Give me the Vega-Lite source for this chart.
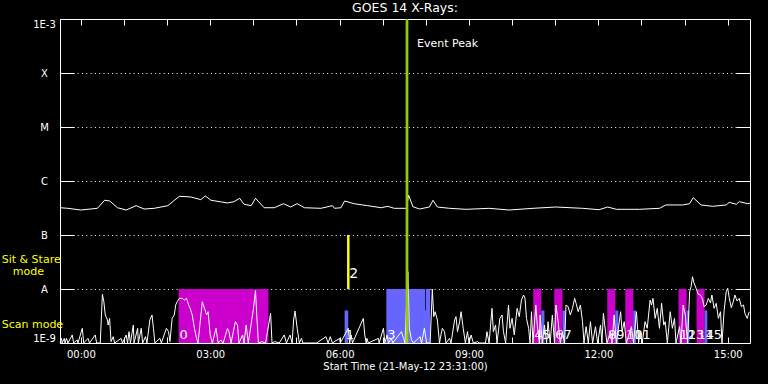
{
  "$schema": "https://vega.github.io/schema/vega-lite/v6.json",
  "width": 690,
  "height": 324,
  "autosize": "none",
  "padding": {"left": 60, "top": 19, "right": 18, "bottom": 41},
  "background": "black",
  "config": {
    "font": "DejaVu Sans",
    "view": {"stroke": "white", "strokeWidth": 1}
  },
  "title": {"text": "GOES 14 X-Rays:", "color": "white", "fontSize": 12.5, "fontWeight": "normal", "anchor": "middle", "baseline": "alphabetic", "offset": -7},
  "datasets": {
    "long": [
      {"t":"2012-05-21T23:31","f":3.2e-7},{"t":"2012-05-21T23:42","f":3.12e-7},{"t":"2012-05-22T00:00","f":2.9e-7},{"t":"2012-05-22T00:23","f":3.12e-7},{"t":"2012-05-22T00:33","f":4.4e-7},{"t":"2012-05-22T00:40","f":4.27e-7},{"t":"2012-05-22T00:51","f":3.2e-7},{"t":"2012-05-22T01:03","f":2.9e-7},{"t":"2012-05-22T01:17","f":3.49e-7},{"t":"2012-05-22T01:28","f":3.03e-7},{"t":"2012-05-22T01:42","f":3.12e-7},{"t":"2012-05-22T02:01","f":3.49e-7},{"t":"2012-05-22T02:17","f":5.21e-7},{"t":"2012-05-22T02:33","f":5.06e-7},{"t":"2012-05-22T02:47","f":4.51e-7},{"t":"2012-05-22T02:53","f":5.3e-7},{"t":"2012-05-22T03:01","f":4.4e-7},{"t":"2012-05-22T03:24","f":3.92e-7},{"t":"2012-05-22T03:33","f":4.14e-7},{"t":"2012-05-22T03:41","f":4.78e-7},{"t":"2012-05-22T03:47","f":3.71e-7},{"t":"2012-05-22T03:57","f":3.49e-7},{"t":"2012-05-22T04:03","f":4.78e-7},{"t":"2012-05-22T04:15","f":3.2e-7},{"t":"2012-05-22T04:29","f":3.2e-7},{"t":"2012-05-22T04:42","f":3.8e-7},{"t":"2012-05-22T04:52","f":3.3e-7},{"t":"2012-05-22T05:01","f":3.8e-7},{"t":"2012-05-22T05:11","f":3.2e-7},{"t":"2012-05-22T05:34","f":3.12e-7},{"t":"2012-05-22T05:50","f":3.49e-7},{"t":"2012-05-22T05:53","f":3.12e-7},{"t":"2012-05-22T06:02","f":3.2e-7},{"t":"2012-05-22T06:07","f":4.27e-7},{"t":"2012-05-22T06:20","f":3.8e-7},{"t":"2012-05-22T06:39","f":3.49e-7},{"t":"2012-05-22T06:58","f":3.2e-7},{"t":"2012-05-22T07:07","f":3.4e-7},{"t":"2012-05-22T07:16","f":3.12e-7},{"t":"2012-05-22T07:33","f":3.12e-7},{"t":"2012-05-22T07:36","f":5.5e-7},{"t":"2012-05-22T07:42","f":3.34e-7},{"t":"2012-05-22T07:51","f":3.03e-7},{"t":"2012-05-22T08:05","f":3.3e-7},{"t":"2012-05-22T08:10","f":4.4e-7},{"t":"2012-05-22T08:16","f":3.3e-7},{"t":"2012-05-22T08:33","f":3.12e-7},{"t":"2012-05-22T08:56","f":2.99e-7},{"t":"2012-05-22T09:28","f":3.12e-7},{"t":"2012-05-22T09:56","f":2.9e-7},{"t":"2012-05-22T10:29","f":3.12e-7},{"t":"2012-05-22T11:01","f":3.3e-7},{"t":"2012-05-22T11:38","f":3.12e-7},{"t":"2012-05-22T12:01","f":2.94e-7},{"t":"2012-05-22T12:13","f":3.3e-7},{"t":"2012-05-22T12:25","f":2.99e-7},{"t":"2012-05-22T12:57","f":2.99e-7},{"t":"2012-05-22T13:25","f":3.12e-7},{"t":"2012-05-22T13:34","f":3.6e-7},{"t":"2012-05-22T13:57","f":3.6e-7},{"t":"2012-05-22T14:07","f":3.8e-7},{"t":"2012-05-22T14:12","f":4.91e-7},{"t":"2012-05-22T14:23","f":3.6e-7},{"t":"2012-05-22T14:39","f":3.4e-7},{"t":"2012-05-22T14:58","f":3.6e-7},{"t":"2012-05-22T15:02","f":4.03e-7},{"t":"2012-05-22T15:12","f":3.71e-7},{"t":"2012-05-22T15:16","f":4.14e-7},{"t":"2012-05-22T15:28","f":3.8e-7},{"t":"2012-05-22T15:31","f":3.9e-7}
    ],
    "short": [
      {"t":"2012-05-21T23:31","f":1e-9},{"t":"2012-05-21T23:33","f":1.22e-9},{"t":"2012-05-21T23:34","f":1e-9},{"t":"2012-05-21T23:37","f":1.22e-9},{"t":"2012-05-21T23:38","f":1e-9},{"t":"2012-05-21T23:40","f":1.22e-9},{"t":"2012-05-21T23:42","f":1e-9},{"t":"2012-05-21T23:48","f":1.41e-9},{"t":"2012-05-21T23:50","f":1e-9},{"t":"2012-05-21T23:55","f":1.14e-9},{"t":"2012-05-21T23:56","f":1e-9},
      {"t":"2012-05-22T00:02","f":1.87e-9},{"t":"2012-05-22T00:04","f":1e-9},{"t":"2012-05-22T00:10","f":1.22e-9},{"t":"2012-05-22T00:12","f":1e-9},{"t":"2012-05-22T00:20","f":1.41e-9},{"t":"2012-05-22T00:22","f":1e-9},{"t":"2012-05-22T00:27","f":1e-9},{"t":"2012-05-22T00:30","f":7.96e-9},{"t":"2012-05-22T00:32","f":5.82e-9},{"t":"2012-05-22T00:34","f":3.3e-9},{"t":"2012-05-22T00:37","f":2.67e-9},{"t":"2012-05-22T00:38","f":2.15e-9},{"t":"2012-05-22T00:40","f":2.86e-9},{"t":"2012-05-22T00:42","f":1.06e-9},{"t":"2012-05-22T00:45","f":1.31e-9},{"t":"2012-05-22T00:47","f":1e-9},{"t":"2012-05-22T00:56","f":1.22e-9},{"t":"2012-05-22T00:58","f":1e-9},
      {"t":"2012-05-22T01:03","f":1.41e-9},{"t":"2012-05-22T01:05","f":1e-9},{"t":"2012-05-22T01:07","f":1.62e-9},{"t":"2012-05-22T01:09","f":1e-9},{"t":"2012-05-22T01:13","f":2.15e-9},{"t":"2012-05-22T01:14","f":1e-9},{"t":"2012-05-22T01:19","f":1.87e-9},{"t":"2012-05-22T01:20","f":1e-9},{"t":"2012-05-22T01:24","f":1.87e-9},{"t":"2012-05-22T01:26","f":1e-9},{"t":"2012-05-22T01:30","f":1.31e-9},{"t":"2012-05-22T01:32","f":1e-9},{"t":"2012-05-22T01:36","f":2.67e-9},{"t":"2012-05-22T01:39","f":3.3e-9},{"t":"2012-05-22T01:41","f":1.87e-9},{"t":"2012-05-22T01:43","f":1e-9},{"t":"2012-05-22T01:50","f":1.22e-9},{"t":"2012-05-22T01:52","f":1e-9},{"t":"2012-05-22T01:59","f":1.87e-9},
      {"t":"2012-05-22T02:02","f":1.62e-9},{"t":"2012-05-22T02:04","f":1.06e-9},{"t":"2012-05-22T02:07","f":2.86e-9},{"t":"2012-05-22T02:10","f":3.3e-9},{"t":"2012-05-22T02:12","f":5.06e-9},{"t":"2012-05-22T02:14","f":5.82e-9},{"t":"2012-05-22T02:17","f":6.71e-9},{"t":"2012-05-22T02:21","f":6.71e-9},{"t":"2012-05-22T02:24","f":6.25e-9},{"t":"2012-05-22T02:27","f":6.71e-9},{"t":"2012-05-22T02:30","f":5.06e-9},{"t":"2012-05-22T02:32","f":4.39e-9},{"t":"2012-05-22T02:35","f":3.3e-9},{"t":"2012-05-22T02:38","f":1.87e-9},{"t":"2012-05-22T02:41","f":1.22e-9},{"t":"2012-05-22T02:43","f":1e-9},{"t":"2012-05-22T02:49","f":5.82e-9},{"t":"2012-05-22T02:52","f":4.39e-9},{"t":"2012-05-22T02:55","f":3.3e-9},{"t":"2012-05-22T02:57","f":3.8e-9},
      {"t":"2012-05-22T03:00","f":1.41e-9},{"t":"2012-05-22T03:03","f":1e-9},{"t":"2012-05-22T03:08","f":1.87e-9},{"t":"2012-05-22T03:11","f":1e-9},{"t":"2012-05-22T03:15","f":1.14e-9},{"t":"2012-05-22T03:18","f":1e-9},{"t":"2012-05-22T03:24","f":1.87e-9},{"t":"2012-05-22T03:26","f":1.62e-9},{"t":"2012-05-22T03:29","f":1e-9},{"t":"2012-05-22T03:35","f":2.48e-9},{"t":"2012-05-22T03:38","f":2.15e-9},{"t":"2012-05-22T03:40","f":1e-9},{"t":"2012-05-22T03:45","f":1.41e-9},{"t":"2012-05-22T03:47","f":1e-9},{"t":"2012-05-22T03:50","f":2.15e-9},{"t":"2012-05-22T03:53","f":1e-9},
      {"t":"2012-05-22T04:00","f":4.2e-9},{"t":"2012-05-22T04:03","f":9.31e-9},{"t":"2012-05-22T04:05","f":2.86e-9},{"t":"2012-05-22T04:07","f":1e-9},{"t":"2012-05-22T04:12","f":1.06e-9},{"t":"2012-05-22T04:17","f":1e-9},{"t":"2012-05-22T04:24","f":3.54e-9},{"t":"2012-05-22T04:26","f":1e-9},{"t":"2012-05-22T04:30","f":1.06e-9},{"t":"2012-05-22T04:36","f":1e-9},{"t":"2012-05-22T04:43","f":1.41e-9},{"t":"2012-05-22T04:46","f":1e-9},{"t":"2012-05-22T04:51","f":1.41e-9},{"t":"2012-05-22T04:54","f":1e-9},{"t":"2012-05-22T04:56","f":2.67e-9},{"t":"2012-05-22T04:58","f":3.92e-9},
      {"t":"2012-05-22T05:01","f":1.87e-9},{"t":"2012-05-22T05:04","f":1e-9},{"t":"2012-05-22T05:07","f":1.22e-9},{"t":"2012-05-22T05:09","f":1e-9},{"t":"2012-05-22T05:28","f":1e-9},{"t":"2012-05-22T05:41","f":1.31e-9},{"t":"2012-05-22T05:44","f":1e-9},{"t":"2012-05-22T05:47","f":1.31e-9},{"t":"2012-05-22T05:50","f":1e-9},
      {"t":"2012-05-22T06:00","f":1.22e-9},{"t":"2012-05-22T06:01","f":1e-9},{"t":"2012-05-22T06:12","f":1.87e-9},{"t":"2012-05-22T06:14","f":1e-9},{"t":"2012-05-22T06:16","f":1.41e-9},{"t":"2012-05-22T06:18","f":1e-9},{"t":"2012-05-22T06:33","f":2.86e-9},{"t":"2012-05-22T06:35","f":1.41e-9},{"t":"2012-05-22T06:37","f":1e-9},{"t":"2012-05-22T06:38","f":1.22e-9},{"t":"2012-05-22T06:40","f":1e-9},{"t":"2012-05-22T06:54","f":1.22e-9},{"t":"2012-05-22T06:55","f":1e-9},
      {"t":"2012-05-22T07:01","f":1.87e-9},{"t":"2012-05-22T07:03","f":1e-9},{"t":"2012-05-22T07:06","f":1.41e-9},{"t":"2012-05-22T07:08","f":1e-9},{"t":"2012-05-22T07:12","f":1.22e-9},{"t":"2012-05-22T07:14","f":1e-9},{"t":"2012-05-22T07:26","f":1.62e-9},{"t":"2012-05-22T07:29","f":1.22e-9},{"t":"2012-05-22T07:31","f":1e-9},{"t":"2012-05-22T07:35","f":2.09e-8},{"t":"2012-05-22T07:37","f":1.87e-9},{"t":"2012-05-22T07:40","f":1.14e-9},{"t":"2012-05-22T07:43","f":1e-9},{"t":"2012-05-22T07:52","f":1.31e-9},{"t":"2012-05-22T07:54","f":1e-9},{"t":"2012-05-22T07:58","f":1.87e-9},
      {"t":"2012-05-22T08:01","f":1e-9},{"t":"2012-05-22T08:06","f":1e-9},{"t":"2012-05-22T08:09","f":1e-8},{"t":"2012-05-22T08:11","f":3.08e-9},{"t":"2012-05-22T08:13","f":3.8e-9},{"t":"2012-05-22T08:16","f":2.67e-9},{"t":"2012-05-22T08:19","f":1e-9},{"t":"2012-05-22T08:21","f":1.41e-9},{"t":"2012-05-22T08:23","f":1.87e-9},{"t":"2012-05-22T08:26","f":1.62e-9},{"t":"2012-05-22T08:28","f":1e-9},{"t":"2012-05-22T08:33","f":1.22e-9},{"t":"2012-05-22T08:35","f":1e-9},{"t":"2012-05-22T08:40","f":2.67e-9},{"t":"2012-05-22T08:42","f":3.08e-9},{"t":"2012-05-22T08:44","f":1.62e-9},{"t":"2012-05-22T08:47","f":2.48e-9},{"t":"2012-05-22T08:49","f":3.8e-9},{"t":"2012-05-22T08:52","f":1.87e-9},{"t":"2012-05-22T08:55","f":1e-9},{"t":"2012-05-22T08:58","f":1.62e-9},
      {"t":"2012-05-22T09:00","f":1e-9},{"t":"2012-05-22T09:03","f":1.41e-9},{"t":"2012-05-22T09:06","f":1e-9},{"t":"2012-05-22T09:12","f":1.06e-9},{"t":"2012-05-22T09:14","f":1e-9},{"t":"2012-05-22T09:23","f":1e-9},{"t":"2012-05-22T09:25","f":1.62e-9},{"t":"2012-05-22T09:28","f":1e-9},{"t":"2012-05-22T09:32","f":4.39e-9},{"t":"2012-05-22T09:34","f":1.62e-9},{"t":"2012-05-22T09:37","f":2.15e-9},{"t":"2012-05-22T09:39","f":1e-9},{"t":"2012-05-22T09:43","f":2.86e-9},{"t":"2012-05-22T09:46","f":3.3e-9},{"t":"2012-05-22T09:48","f":1.62e-9},{"t":"2012-05-22T09:51","f":1e-9},{"t":"2012-05-22T09:55","f":5.06e-9},{"t":"2012-05-22T09:57","f":1.87e-9},
      {"t":"2012-05-22T10:00","f":2.86e-9},{"t":"2012-05-22T10:03","f":1.41e-9},{"t":"2012-05-22T10:07","f":4.39e-9},{"t":"2012-05-22T10:10","f":3.08e-9},{"t":"2012-05-22T10:13","f":6.25e-9},{"t":"2012-05-22T10:16","f":7.74e-9},{"t":"2012-05-22T10:18","f":6.71e-9},{"t":"2012-05-22T10:20","f":2.86e-9},{"t":"2012-05-22T10:23","f":1.87e-9},{"t":"2012-05-22T10:25","f":1e-9},{"t":"2012-05-22T10:27","f":3.8e-9},{"t":"2012-05-22T10:29","f":1e-9},{"t":"2012-05-22T10:33","f":5.06e-9},{"t":"2012-05-22T10:35","f":2.15e-9},{"t":"2012-05-22T10:38","f":1e-9},{"t":"2012-05-22T10:39","f":3.3e-9},{"t":"2012-05-22T10:42","f":1e-9},{"t":"2012-05-22T10:45","f":2.15e-9},{"t":"2012-05-22T10:48","f":1e-9},{"t":"2012-05-22T10:50","f":2.48e-9},{"t":"2012-05-22T10:53","f":1e-9},{"t":"2012-05-22T10:56","f":3.3e-9},{"t":"2012-05-22T10:59","f":1e-9},
      {"t":"2012-05-22T11:01","f":5.06e-9},{"t":"2012-05-22T11:04","f":2.48e-9},{"t":"2012-05-22T11:07","f":1e-9},{"t":"2012-05-22T11:10","f":1.62e-9},{"t":"2012-05-22T11:13","f":1e-9},{"t":"2012-05-22T11:15","f":5.06e-9},{"t":"2012-05-22T11:18","f":4.71e-9},{"t":"2012-05-22T11:21","f":3.3e-9},{"t":"2012-05-22T11:24","f":4.39e-9},{"t":"2012-05-22T11:27","f":6.71e-9},{"t":"2012-05-22T11:29","f":5.43e-9},{"t":"2012-05-22T11:32","f":3.8e-9},{"t":"2012-05-22T11:35","f":5.06e-9},{"t":"2012-05-22T11:38","f":2.48e-9},{"t":"2012-05-22T11:40","f":1e-9},{"t":"2012-05-22T11:43","f":2.01e-9},{"t":"2012-05-22T11:46","f":1e-9},{"t":"2012-05-22T11:49","f":2.48e-9},{"t":"2012-05-22T11:52","f":1e-9},{"t":"2012-05-22T11:56","f":2.01e-9},{"t":"2012-05-22T11:59","f":1e-9},
      {"t":"2012-05-22T12:03","f":2.15e-9},{"t":"2012-05-22T12:05","f":1e-9},{"t":"2012-05-22T12:07","f":3.54e-9},{"t":"2012-05-22T12:10","f":1.62e-9},{"t":"2012-05-22T12:12","f":1e-9},{"t":"2012-05-22T12:17","f":1.62e-9},{"t":"2012-05-22T12:19","f":1e-9},{"t":"2012-05-22T12:22","f":3.3e-9},{"t":"2012-05-22T12:25","f":1e-9},{"t":"2012-05-22T12:31","f":3.8e-9},{"t":"2012-05-22T12:33","f":1.62e-9},{"t":"2012-05-22T12:36","f":2.48e-9},{"t":"2012-05-22T12:39","f":1e-9},{"t":"2012-05-22T12:46","f":2.01e-9},{"t":"2012-05-22T12:49","f":1e-9},{"t":"2012-05-22T12:53","f":3.8e-9},{"t":"2012-05-22T12:56","f":1e-9},{"t":"2012-05-22T12:58","f":1.62e-9},
      {"t":"2012-05-22T13:01","f":1e-9},{"t":"2012-05-22T13:05","f":2.48e-9},{"t":"2012-05-22T13:08","f":1.87e-9},{"t":"2012-05-22T13:12","f":6.25e-9},{"t":"2012-05-22T13:14","f":5.06e-9},{"t":"2012-05-22T13:16","f":6.71e-9},{"t":"2012-05-22T13:19","f":2.86e-9},{"t":"2012-05-22T13:22","f":4.39e-9},{"t":"2012-05-22T13:25","f":1.87e-9},{"t":"2012-05-22T13:28","f":5.43e-9},{"t":"2012-05-22T13:31","f":2.15e-9},{"t":"2012-05-22T13:33","f":2.48e-9},{"t":"2012-05-22T13:36","f":1e-9},{"t":"2012-05-22T13:40","f":3.8e-9},{"t":"2012-05-22T13:43","f":1.87e-9},{"t":"2012-05-22T13:46","f":2.86e-9},{"t":"2012-05-22T13:48","f":1e-9},{"t":"2012-05-22T13:53","f":2.01e-9},{"t":"2012-05-22T13:55","f":1e-9},{"t":"2012-05-22T13:58","f":5.06e-9},
      {"t":"2012-05-22T14:01","f":3.3e-9},{"t":"2012-05-22T14:04","f":1e-9},{"t":"2012-05-22T14:07","f":8.93e-9},{"t":"2012-05-22T14:09","f":1.1e-8},{"t":"2012-05-22T14:11","f":1.69e-8},{"t":"2012-05-22T14:13","f":1.3e-8},{"t":"2012-05-22T14:16","f":1.03e-8},{"t":"2012-05-22T14:19","f":8.0e-9},{"t":"2012-05-22T14:22","f":7.74e-9},{"t":"2012-05-22T14:25","f":6.5e-9},{"t":"2012-05-22T14:27","f":4.71e-9},{"t":"2012-05-22T14:30","f":5.06e-9},{"t":"2012-05-22T14:33","f":6.71e-9},{"t":"2012-05-22T14:36","f":5.5e-9},{"t":"2012-05-22T14:38","f":7.74e-9},{"t":"2012-05-22T14:41","f":4.39e-9},{"t":"2012-05-22T14:44","f":5.43e-9},{"t":"2012-05-22T14:47","f":2.86e-9},{"t":"2012-05-22T14:50","f":3.8e-9},{"t":"2012-05-22T14:52","f":1e-9},{"t":"2012-05-22T14:55","f":4.0e-9},{"t":"2012-05-22T14:58","f":9.0e-9},
      {"t":"2012-05-22T15:00","f":1.03e-8},{"t":"2012-05-22T15:02","f":7.0e-9},{"t":"2012-05-22T15:05","f":4.5e-9},{"t":"2012-05-22T15:08","f":6.0e-9},{"t":"2012-05-22T15:10","f":7.74e-9},{"t":"2012-05-22T15:13","f":6.0e-9},{"t":"2012-05-22T15:16","f":6.71e-9},{"t":"2012-05-22T15:19","f":4.71e-9},{"t":"2012-05-22T15:22","f":5.06e-9},{"t":"2012-05-22T15:24","f":3.5e-9},{"t":"2012-05-22T15:27","f":2.86e-9},{"t":"2012-05-22T15:30","f":3.8e-9}
    ],
    "bars": [
      {"start":"2012-05-22T02:16","end":"2012-05-22T04:21","top":1e-8,"kind":"scan"},
      {"start":"2012-05-22T06:07","end":"2012-05-22T06:12","top":4e-9,"kind":"sit"},
      {"start":"2012-05-22T07:05","end":"2012-05-22T07:59","top":1e-8,"kind":"sit"},
      {"start":"2012-05-22T08:00","end":"2012-05-22T08:06","top":1e-8,"kind":"sit"},
      {"start":"2012-05-22T07:58","end":"2012-05-22T08:01","top":4e-9,"kind":"sit"},
      {"start":"2012-05-22T10:29:30","end":"2012-05-22T10:40:40","top":1e-8,"kind":"scan"},
      {"start":"2012-05-22T10:40:40","end":"2012-05-22T10:45:00","top":4e-9,"kind":"sit"},
      {"start":"2012-05-22T10:58:40","end":"2012-05-22T11:10:10","top":1e-8,"kind":"scan"},
      {"start":"2012-05-22T11:10:10","end":"2012-05-22T11:14:00","top":4e-9,"kind":"sit"},
      {"start":"2012-05-22T12:12:25","end":"2012-05-22T12:23:35","top":1e-8,"kind":"scan"},
      {"start":"2012-05-22T12:23:35","end":"2012-05-22T12:27:45","top":4e-9,"kind":"sit"},
      {"start":"2012-05-22T12:37:30","end":"2012-05-22T12:48:35","top":1e-8,"kind":"scan"},
      {"start":"2012-05-22T12:48:35","end":"2012-05-22T12:52:20","top":4e-9,"kind":"sit"},
      {"start":"2012-05-22T13:51:35","end":"2012-05-22T14:02:50","top":1e-8,"kind":"scan"},
      {"start":"2012-05-22T14:02:50","end":"2012-05-22T14:06:35","top":4e-9,"kind":"sit"},
      {"start":"2012-05-22T14:16:40","end":"2012-05-22T14:27:50","top":1e-8,"kind":"scan"},
      {"start":"2012-05-22T14:27:50","end":"2012-05-22T14:31:35","top":4e-9,"kind":"sit"}
    ],
    "labels": [
      {"t":"2012-05-22T02:16","label":"0"},
      {"t":"2012-05-22T06:07","label":"1"},
      {"t":"2012-05-22T07:05","label":"3"},
      {"t":"2012-05-22T10:29:30","label":"4"},
      {"t":"2012-05-22T10:40:40","label":"5"},
      {"t":"2012-05-22T10:58:40","label":"6"},
      {"t":"2012-05-22T11:10:10","label":"7"},
      {"t":"2012-05-22T12:12:25","label":"8"},
      {"t":"2012-05-22T12:23:35","label":"9"},
      {"t":"2012-05-22T12:37:30","label":"10"},
      {"t":"2012-05-22T12:48:35","label":"11"},
      {"t":"2012-05-22T13:51:35","label":"12"},
      {"t":"2012-05-22T14:02:50","label":"13"},
      {"t":"2012-05-22T14:16:40","label":"14"},
      {"t":"2012-05-22T14:27:50","label":"15"}
    ],
    "stare": [{"t":"2012-05-22T06:12:06","lo":1e-8,"hi":1e-7,"label":"2"}],
    "peak": [{"t":"2012-05-22T07:33:48","label":"Event Peak"}]
  },
  "layer": [
    {
      "data": {"name": "bars"},
      "mark": {"type": "rect"},
      "encoding": {
        "x": {"field": "start", "type": "temporal", "axis": null, "scale": {"type": "time", "domain": [{"year":2012,"month":5,"date":21,"hours":23,"minutes":31},{"year":2012,"month":5,"date":22,"hours":15,"minutes":31}], "nice": false}},
        "x2": {"field": "end"},
        "y": {"field": "top", "type": "quantitative", "axis": null, "scale": {"type": "log", "domain": [1e-9, 1e-3], "nice": false}},
        "y2": {"datum": 1e-9},
        "color": {"field": "kind", "type": "nominal", "scale": {"domain": ["scan", "sit"], "range": ["#CC00CC", "#6666FF"]}, "legend": null}
      }
    },
    {
      "data": {"name": "long"},
      "mark": {"type": "line", "color": "white", "strokeWidth": 1},
      "encoding": {
        "x": {"field": "t", "type": "temporal", "scale": {"type": "time", "domain": [{"year":2012,"month":5,"date":21,"hours":23,"minutes":31},{"year":2012,"month":5,"date":22,"hours":15,"minutes":31}], "nice": false},
          "axis": {"orient": "bottom", "values": [{"year":2012,"month":5,"date":22,"hours":0},{"year":2012,"month":5,"date":22,"hours":1},{"year":2012,"month":5,"date":22,"hours":2},{"year":2012,"month":5,"date":22,"hours":3},{"year":2012,"month":5,"date":22,"hours":4},{"year":2012,"month":5,"date":22,"hours":5},{"year":2012,"month":5,"date":22,"hours":6},{"year":2012,"month":5,"date":22,"hours":7},{"year":2012,"month":5,"date":22,"hours":8},{"year":2012,"month":5,"date":22,"hours":9},{"year":2012,"month":5,"date":22,"hours":10},{"year":2012,"month":5,"date":22,"hours":11},{"year":2012,"month":5,"date":22,"hours":12},{"year":2012,"month":5,"date":22,"hours":13},{"year":2012,"month":5,"date":22,"hours":14},{"year":2012,"month":5,"date":22,"hours":15}],
            "labelExpr": "hours(datum.value) % 3 == 0 ? timeFormat(datum.value, '%H:%M') : ''",
            "tickSize": -6, "tickColor": "white", "labelPadding": 12.5, "domain": false, "grid": false,
            "labelColor": "white", "labelFontSize": 10, "labelFlush": false, "labelOverlap": false,
            "title": "Start Time (21-May-12 23:31:00)", "titleColor": "white", "titleFontSize": 10, "titleFontWeight": "normal", "titlePadding": 2}},
        "y": {"field": "f", "type": "quantitative", "scale": {"type": "log", "domain": [1e-9, 1e-3], "nice": false},
          "axis": {"orient": "left", "values": [1e-9, 1e-8, 1e-7, 1e-6, 1e-5, 1e-4, 1e-3],
            "labelExpr": "datum.value >= 9.9e-4 ? '1E-3' : datum.value >= 9.9e-5 ? 'X' : datum.value >= 9.9e-6 ? 'M' : datum.value >= 9.9e-7 ? 'C' : datum.value >= 9.9e-8 ? 'B' : datum.value >= 9.9e-9 ? 'A' : '1E-9'",
            "tickSize": -14, "tickColor": "white", "labelPadding": 30, "labelAlign": "center", "labelFlush": true, "labelOverlap": false,
            "grid": true, "gridColor": "white", "gridDash": [1, 3.3], "gridOpacity": 1, "domain": false, "title": null,
            "labelColor": "white", "labelFontSize": 10}}
      }
    },
    {
      "data": {"name": "short"},
      "mark": {"type": "line", "color": "white", "strokeWidth": 1},
      "encoding": {
        "x": {"field": "t", "type": "temporal", "scale": {"type": "time", "domain": [{"year":2012,"month":5,"date":21,"hours":23,"minutes":31},{"year":2012,"month":5,"date":22,"hours":15,"minutes":31}], "nice": false},
          "axis": {"orient": "top", "values": [{"year":2012,"month":5,"date":22,"hours":0},{"year":2012,"month":5,"date":22,"hours":1},{"year":2012,"month":5,"date":22,"hours":2},{"year":2012,"month":5,"date":22,"hours":3},{"year":2012,"month":5,"date":22,"hours":4},{"year":2012,"month":5,"date":22,"hours":5},{"year":2012,"month":5,"date":22,"hours":6},{"year":2012,"month":5,"date":22,"hours":7},{"year":2012,"month":5,"date":22,"hours":8},{"year":2012,"month":5,"date":22,"hours":9},{"year":2012,"month":5,"date":22,"hours":10},{"year":2012,"month":5,"date":22,"hours":11},{"year":2012,"month":5,"date":22,"hours":12},{"year":2012,"month":5,"date":22,"hours":13},{"year":2012,"month":5,"date":22,"hours":14},{"year":2012,"month":5,"date":22,"hours":15}],
            "labels": false, "tickSize": -6, "tickColor": "white", "domain": false, "grid": false, "title": null}},
        "y": {"field": "f", "type": "quantitative", "scale": {"type": "log", "domain": [1e-9, 1e-3], "nice": false},
          "axis": {"orient": "right", "values": [1e-8, 1e-7, 1e-6, 1e-5, 1e-4], "labels": false, "tickSize": -14, "tickColor": "white", "domain": false, "grid": false, "title": null}}
      }
    },
    {
      "data": {"name": "stare"},
      "mark": {"type": "rule", "color": "#FFFF00", "strokeWidth": 2.5},
      "encoding": {
        "x": {"field": "t", "type": "temporal", "axis": null, "scale": {"type": "time", "domain": [{"year":2012,"month":5,"date":21,"hours":23,"minutes":31},{"year":2012,"month":5,"date":22,"hours":15,"minutes":31}], "nice": false}},
        "y": {"field": "hi", "type": "quantitative", "axis": null, "scale": {"type": "log", "domain": [1e-9, 1e-3], "nice": false}},
        "y2": {"field": "lo"}
      }
    },
    {
      "data": {"name": "stare"},
      "mark": {"type": "text", "color": "white", "fontSize": 14, "align": "left", "baseline": "alphabetic", "dx": 1},
      "encoding": {
        "x": {"field": "t", "type": "temporal", "axis": null, "scale": {"type": "time", "domain": [{"year":2012,"month":5,"date":21,"hours":23,"minutes":31},{"year":2012,"month":5,"date":22,"hours":15,"minutes":31}], "nice": false}},
        "y": {"datum": 1.6e-8, "type": "quantitative", "axis": null, "scale": {"type": "log", "domain": [1e-9, 1e-3], "nice": false}},
        "text": {"field": "label"}
      }
    },
    {
      "data": {"name": "labels"},
      "mark": {"type": "text", "color": "white", "fontSize": 13, "align": "left", "baseline": "alphabetic", "dx": 1},
      "encoding": {
        "x": {"field": "t", "type": "temporal", "axis": null, "scale": {"type": "time", "domain": [{"year":2012,"month":5,"date":21,"hours":23,"minutes":31},{"year":2012,"month":5,"date":22,"hours":15,"minutes":31}], "nice": false}},
        "y": {"datum": 1.19e-9, "type": "quantitative", "axis": null, "scale": {"type": "log", "domain": [1e-9, 1e-3], "nice": false}},
        "text": {"field": "label"}
      }
    },
    {
      "data": {"name": "peak"},
      "mark": {"type": "rule", "color": "#99CC00", "strokeWidth": 2.7},
      "encoding": {
        "x": {"field": "t", "type": "temporal", "axis": null, "scale": {"type": "time", "domain": [{"year":2012,"month":5,"date":21,"hours":23,"minutes":31},{"year":2012,"month":5,"date":22,"hours":15,"minutes":31}], "nice": false}},
        "y": {"datum": 1e-9, "type": "quantitative", "axis": null, "scale": {"type": "log", "domain": [1e-9, 1e-3], "nice": false}},
        "y2": {"datum": 1e-3}
      }
    },
    {
      "data": {"name": "peak"},
      "mark": {"type": "text", "color": "white", "fontSize": 11, "align": "left", "baseline": "alphabetic", "dx": 10},
      "encoding": {
        "x": {"field": "t", "type": "temporal", "axis": null, "scale": {"type": "time", "domain": [{"year":2012,"month":5,"date":21,"hours":23,"minutes":31},{"year":2012,"month":5,"date":22,"hours":15,"minutes":31}], "nice": false}},
        "y": {"datum": 3.0e-4, "type": "quantitative", "axis": null, "scale": {"type": "log", "domain": [1e-9, 1e-3], "nice": false}},
        "text": {"field": "label"}
      }
    },
    {
      "data": {"values": [{"label": "Sit & Stare", "v": 3.0e-8}, {"label": "Scan mode", "v": 1.87e-9}]},
      "mark": {"type": "text", "color": "#FFFF00", "fontSize": 11, "align": "left", "baseline": "alphabetic", "dx": -58.3},
      "encoding": {
        "x": {"datum": {"year":2012,"month":5,"date":21,"hours":23,"minutes":31}, "type": "temporal", "axis": null, "scale": {"type": "time", "domain": [{"year":2012,"month":5,"date":21,"hours":23,"minutes":31},{"year":2012,"month":5,"date":22,"hours":15,"minutes":31}], "nice": false}},
        "y": {"field": "v", "type": "quantitative", "axis": null, "scale": {"type": "log", "domain": [1e-9, 1e-3], "nice": false}},
        "text": {"field": "label"}
      }
    },
    {
      "data": {"values": [{"label": "mode", "v": 1.82e-8}]},
      "mark": {"type": "text", "color": "#FFFF00", "fontSize": 11, "align": "left", "baseline": "alphabetic", "dx": -47.3},
      "encoding": {
        "x": {"datum": {"year":2012,"month":5,"date":21,"hours":23,"minutes":31}, "type": "temporal", "axis": null, "scale": {"type": "time", "domain": [{"year":2012,"month":5,"date":21,"hours":23,"minutes":31},{"year":2012,"month":5,"date":22,"hours":15,"minutes":31}], "nice": false}},
        "y": {"field": "v", "type": "quantitative", "axis": null, "scale": {"type": "log", "domain": [1e-9, 1e-3], "nice": false}},
        "text": {"field": "label"}
      }
    }
  ],
  "resolve": {"axis": {"x": "independent", "y": "independent"}}
}
